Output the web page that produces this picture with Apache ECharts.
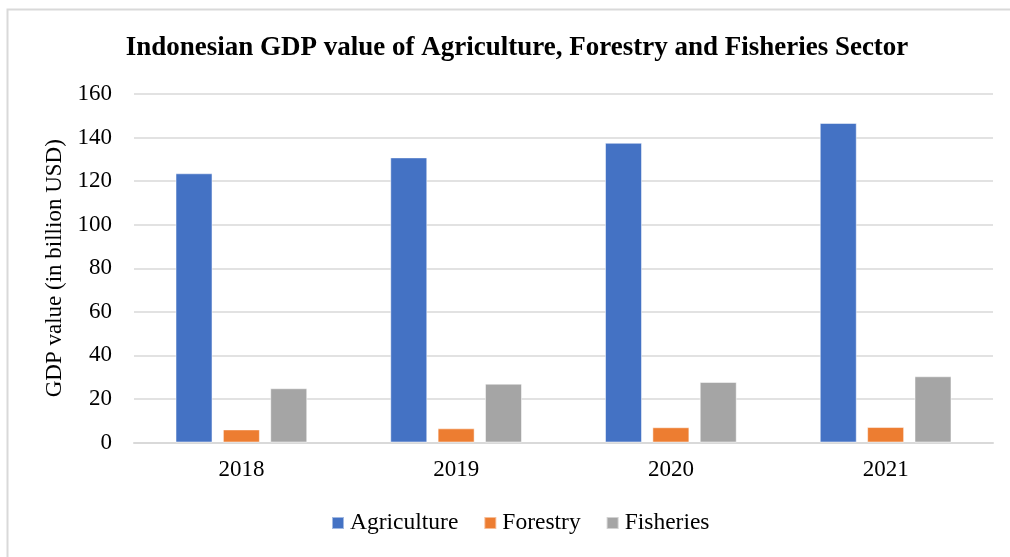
<!DOCTYPE html>
<html><head><meta charset="utf-8">
<script src="https://cdn.jsdelivr.net/npm/echarts@6/dist/echarts.min.js"></script>
<style>html,body{margin:0;padding:0;background:#fff}#c{width:1010px;height:557px}</style>
</head><body><div id="c"></div>
<script>
const categories = ['2018', '2019', '2020', '2021'];
const agriculture = [123.6, 130.9, 137.6, 146.7];
const forestry = [6.0, 6.5, 7.0, 7.1];
const fisheries = [24.9, 27.0, 27.8, 30.4];
const seriesNames = ['Agriculture', 'Forestry', 'Fisheries'];
const colors = ['#4472C4', '#ED7D31', '#A5A5A5'];

const chart = echarts.init(document.getElementById('c'), null, {renderer: 'canvas'});
const font = 'Liberation Serif';
const mk = (name, data, i) => ({
  name, type: 'bar', data, barWidth: 37, barGap: '28%',
  itemStyle: {color: colors[i], borderColor: 'rgba(255,255,255,0.5)', borderWidth: 1}
});
chart.setOption({
  animation: false,
  color: colors,
  graphic: [{type: 'rect', shape: {x: 7.5, y: 9.5, width: 1100, height: 700}, style: {fill: 'none', stroke: '#d9d9d9', lineWidth: 2}, z: -1}],
  title: {text: 'Indonesian GDP value of Agriculture, Forestry and Fisheries Sector', left: 512, top: 30, textAlign: 'center',
    textStyle: {fontFamily: font, fontWeight: 'bold', fontSize: 27, color: '#000'}},
  legend: {data: seriesNames, top: 506, left: 326, itemWidth: 12, itemHeight: 12, itemGap: 25, icon: 'rect',
    textStyle: {fontFamily: font, fontSize: 23.5, color: '#000', padding: [0,0,0,1]}},
  grid: {left: 134, right: 17, top: 94, bottom: 114.5, containLabel: false},
  xAxis: {type: 'category', data: categories,
    axisLine: {lineStyle: {color: '#d9d9d9', width: 2}}, axisTick: {show: false},
    axisLabel: {fontFamily: font, fontSize: 23, color: '#000', margin: 16}},
  yAxis: {type: 'value', min: 0, max: 160, interval: 20,
    name: 'GDP value (in billion USD)', nameLocation: 'middle', nameGap: 66,
    nameTextStyle: {fontFamily: font, fontSize: 23, color: '#000'},
    axisLine: {show: false}, axisTick: {show: false},
    axisLabel: {fontFamily: font, fontSize: 23, color: '#000', margin: 22},
    splitLine: {lineStyle: {color: '#d9d9d9', width: 1.5}}},
  series: [mk(seriesNames[0], agriculture, 0), mk(seriesNames[1], forestry, 1), mk(seriesNames[2], fisheries, 2)]
});
</script></body></html>
